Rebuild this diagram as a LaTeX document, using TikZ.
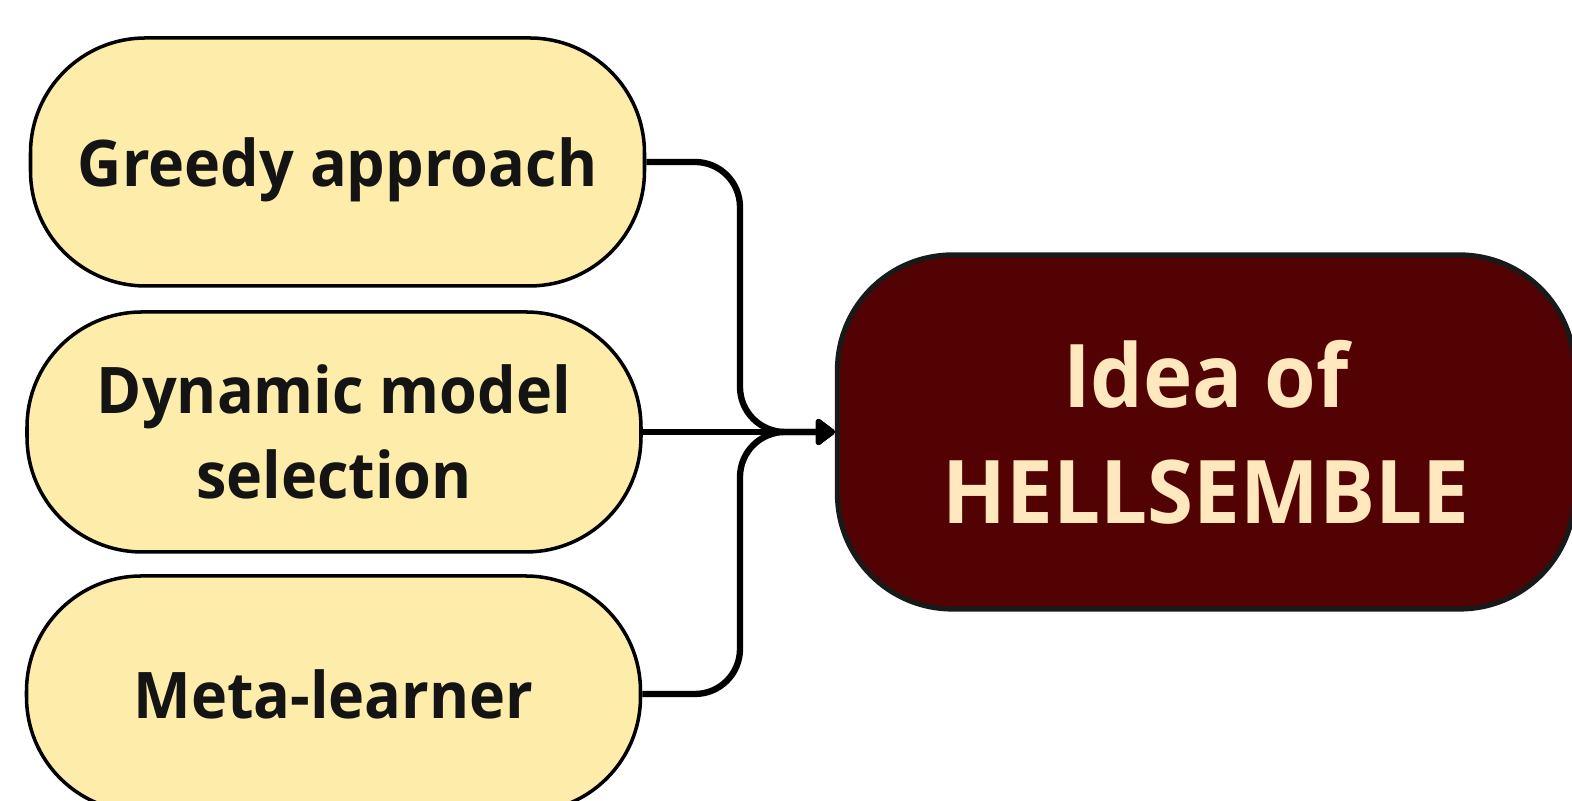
\documentclass[tikz,border=0pt]{standalone}
\usepackage{fontspec}
\setmainfont{Open Sans}[FakeStretch=0.95]
\usetikzlibrary{arrows.meta}
\definecolor{pillyellow}{HTML}{FDECAA}
\definecolor{ideared}{HTML}{520202}
\definecolor{ideatext}{HTML}{FFE7BE}

\begin{document}
\begin{tikzpicture}[
    pill/.style={rectangle,rounded corners=1.15cm,draw=black,line width=1pt,fill=pillyellow,
        minimum width=6.14cm,align=center,
        font=\fontsize{18.3pt}{24pt}\selectfont\bfseries,text=black!92},
    idea/.style={rectangle,rounded corners=1.15cm,draw=black!90,line width=1.5pt,fill=ideared,
        minimum width=7.37cm,minimum height=3.54cm,align=center,
        font=\fontsize{25pt}{33pt}\selectfont\bfseries,text=ideatext},
    link/.style={line width=1.8pt,rounded corners=0.45cm,-{Triangle[length=2.1mm,width=3mm,round]}}
]
    \pgfmathsetmacro{\picwidth}{15.72}
    \pgfmathsetmacro{\picheight}{8.01}
    \useasboundingbox (0,0) rectangle (\picwidth,\picheight);
    \clip (0,0) rectangle (\picwidth,\picheight);
    % left column
    \node[pill,minimum height=2.48cm,text depth=0pt] (greedy) at (3.375,6.39) {Greedy approach};
    \node[pill,minimum height=2.40cm] (dynamic) at (3.34,3.69) {Dynamic model\\selection};
    \node[pill,minimum height=2.36cm] (meta) at (3.335,1.07) {Meta-learner};
    % right box, runs off the page
    \node[idea] (hell) at (12.06,3.69) {Idea of\\HELLSEMBLE};
    \coordinate (join) at (7.40,3.69);
    \draw[link] (greedy.east) -| (join) -- (hell.west);
    \draw[link] (meta.east) -| (join) -- (hell.west);
    \draw[link] (dynamic.east) -- (hell.west);
\end{tikzpicture}
\end{document}
